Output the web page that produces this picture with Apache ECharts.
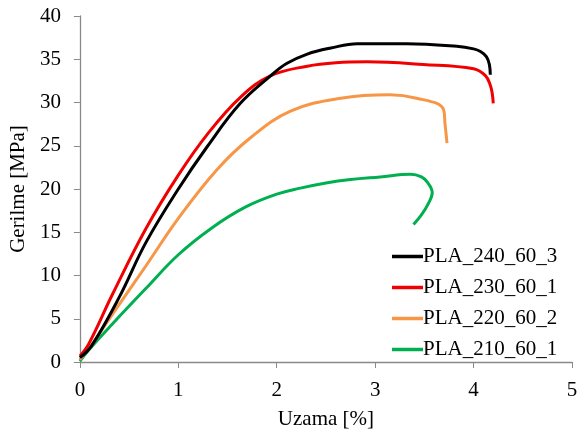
<!DOCTYPE html>
<html><head><meta charset="utf-8">
<script src="https://cdn.jsdelivr.net/npm/echarts@6/dist/echarts.min.js"></script>
<style>html,body{margin:0;padding:0;background:#fff}#c{width:581px;height:435px}</style>
</head><body><div id="c"></div>
<script>
var seriesNames = ['PLA_240_60_3', 'PLA_230_60_1', 'PLA_220_60_2', 'PLA_210_60_1'];
var xTicks = [0, 1, 2, 3, 4, 5];
var yTicks = [0, 5, 10, 15, 20, 25, 30, 35, 40];
var pla240 = [[0,0.5],[0.12,1.9],[0.4,7.5],[0.67,13.8],[1.0,20.0],[1.3,25.0],[1.63,29.9],[1.94,33.1],[2.1,34.5],[2.31,35.6],[2.55,36.3],[2.82,36.8],[3.32,36.8],[3.83,36.5],[4.0,36.2],[4.07,35.9],[4.13,35.3],[4.16,34.4],[4.17,33.2]];
var pla230 = [[0,0.7],[0.09,2.1],[0.33,7.8],[0.67,15.4],[1.0,21.6],[1.3,26.4],[1.63,30.6],[1.94,33.1],[2.31,34.2],[2.6,34.6],[2.92,34.7],[3.49,34.4],[4.0,33.9],[4.12,33.1],[4.17,32.0],[4.19,31.0],[4.2,29.9]];
var pla220 = [[0,0.3],[0.12,2.0],[0.33,5.5],[0.67,11.1],[1.0,16.6],[1.39,22.2],[1.73,25.9],[2.14,29.0],[2.65,30.5],[3.15,30.9],[3.42,30.5],[3.69,29.3],[3.71,27.5],[3.73,25.3]];
var pla210 = [[0,0.1],[0.09,1.4],[0.33,4.4],[0.67,8.5],[1.0,12.4],[1.34,15.5],[1.68,17.9],[2.0,19.4],[2.24,20.1],[2.5,20.7],[2.75,21.1],[3.05,21.4],[3.36,21.7],[3.47,21.4],[3.53,20.8],[3.58,19.6],[3.54,18.3],[3.47,17.0],[3.39,15.9]];
var seriesData = [pla240, pla230, pla220, pla210];
var colors = ['#000000', '#f00000', '#f79646', '#00b050'];

var chart = echarts.init(document.getElementById('c'), null, {renderer: 'canvas'});
var font = 'Liberation Serif';
chart.setOption({
  animation: false,
  grid: {left: 79, right: 9, top: 16, bottom: 67},
  legend: {
    orient: 'vertical', left: 387, top: 241,
    icon: 'rect', itemWidth: 31, itemHeight: 3.5, itemGap: 10,
    textStyle: {fontFamily: font, fontSize: 21, color: '#000', lineHeight: 21, padding: [0,0,0,-5]},
    data: seriesNames
  },
  xAxis: {
    type: 'value', min: 0, max: 5, interval: 1,
    name: 'Uzama [%]', nameLocation: 'middle', nameGap: 47,
    nameTextStyle: {fontFamily: font, fontSize: 21, color: '#000'},
    axisLine: {show: true, lineStyle: {color: '#898989', width: 1.3}},
    axisTick: {show: true, length: 6, lineStyle: {color: '#898989'}},
    axisLabel: {fontFamily: font, fontSize: 21, color: '#000', margin: 18,
      formatter: function(v){ return xTicks.indexOf(v) >= 0 ? String(v) : ''; }},
    splitLine: {show: false}
  },
  yAxis: {
    type: 'value', min: 0, max: 40, interval: 5,
    name: 'Gerilme [MPa]', nameLocation: 'middle', nameGap: 43, nameRotate: 90,
    nameTextStyle: {fontFamily: font, fontSize: 21, color: '#000'},
    axisLine: {show: true, lineStyle: {color: '#898989', width: 1.3}},
    axisTick: {show: true, length: 6, lineStyle: {color: '#898989'}},
    axisLabel: {fontFamily: font, fontSize: 21, color: '#000', margin: 19,
      formatter: function(v){ return yTicks.indexOf(v) >= 0 ? String(v) : ''; }},
    splitLine: {show: false}
  },
  series: seriesNames.map(function(n, i){
    return {
      name: n, type: 'line', data: seriesData[i], smooth: 0.4,
      showSymbol: false, symbol: 'none',
      lineStyle: {color: colors[i], width: 3},
      itemStyle: {color: colors[i]},
      z: 10 - i
    };
  })
});
</script></body></html>
